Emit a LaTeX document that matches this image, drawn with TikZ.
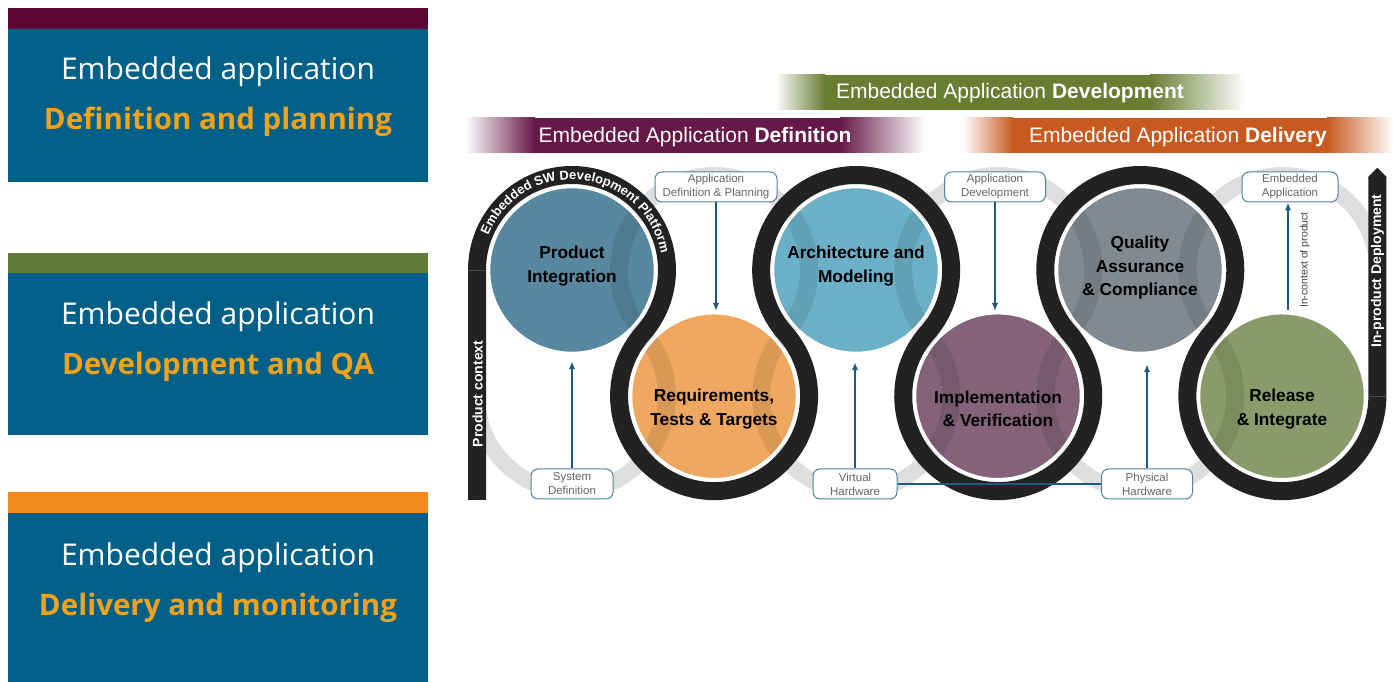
\documentclass[tikz,border=0pt]{standalone}
\usepackage{fontspec}
\setmainfont{Liberation Sans}
\newfontfamily\panelfont{Open Sans}
\usetikzlibrary{decorations.text,arrows.meta,calc}
\definecolor{panelblue}{RGB}{0,96,135}
\definecolor{barmaroon}{RGB}{94,7,53}
\definecolor{bargreen}{RGB}{98,122,55}
\definecolor{barorange}{RGB}{242,138,30}
\definecolor{panelorange}{RGB}{240,162,28}
\definecolor{defcol}{RGB}{102,24,70}
\definecolor{devcol}{RGB}{104,124,50}
\definecolor{delcol}{RGB}{200,90,32}
\definecolor{track}{RGB}{34,34,34}
\definecolor{gtrack}{RGB}{222,222,222}
\definecolor{cPI}{RGB}{88,135,160}
\definecolor{cReq}{RGB}{240,168,96}
\definecolor{cArch}{RGB}{108,176,200}
\definecolor{cImpl}{RGB}{131,98,122}
\definecolor{cQA}{RGB}{128,138,144}
\definecolor{cRel}{RGB}{138,154,104}
\definecolor{lblborder}{RGB}{80,130,160}
\definecolor{arrowblue}{RGB}{30,90,128}
\newcommand\platfont{\bfseries\fontsize{13}{13}\selectfont}
\def\graypath{(477,285.8) arc[start angle=180,end angle=401.6,radius=95]
  arc[start angle=221.6,end angle=-41.6,radius=95]
  arc[start angle=138.4,end angle=401.6,radius=95]
  arc[start angle=221.6,end angle=-41.6,radius=95]
  arc[start angle=138.4,end angle=401.6,radius=95]
  arc[start angle=221.6,end angle=0,radius=95]}
\begin{document}
\begin{tikzpicture}[x=1pt,y=1pt,
  ptext/.style={font=\panelfont\fontsize{30}{32}\selectfont, text=white, anchor=base},
  porange/.style={font=\panelfont\bfseries\fontsize{29.5}{32}\selectfont, text=panelorange, anchor=base},
  bantext/.style={font=\fontsize{21}{23}\selectfont, text=white, anchor=base},
  phase/.style={circle, minimum size=166pt, inner sep=0pt, draw=white, line width=2.5pt},
  ctext/.style={font=\bfseries\fontsize{17.3}{23.5}\selectfont, align=center, text=black},
  lbl/.style={draw=lblborder, fill=white, rounded corners=7pt, line width=1pt, align=center,
    font=\fontsize{11.5}{14}\selectfont, text=black!60, minimum height=30pt, inner sep=1.5pt},
  arr/.style={draw=arrowblue, line width=1.6pt, -{Latex[length=8pt,width=6.5pt]}},
  bartext/.style={font=\bfseries\fontsize{14}{14}\selectfont, text=white, rotate=90}
]
\useasboundingbox (0,0) rectangle (1393,682);
\fill[white] (0,0) rectangle (1393,682);
% ---------- left panels ----------
\fill[barmaroon] (8,674) rectangle (428,653);
\fill[panelblue] (8,653) rectangle (428,500);
\node[ptext] (p1a) at (218,602) {Embedded application};
\node[porange] (p1b) at (218,552) {Definition and planning};
\fill[bargreen] (8,429) rectangle (428,409);
\fill[panelblue] (8,409) rectangle (428,247);
\node[ptext] (p2a) at (218,357) {Embedded application};
\node[porange] (p2b) at (218,307) {Development and QA};
\fill[barorange] (8,190) rectangle (428,169);
\fill[panelblue] (8,169) rectangle (428,0);
\node[ptext] (p3a) at (218,116) {Embedded application};
\node[porange] (p3b) at (218,66) {Delivery and monitoring};
% ---------- banners ----------
\shade[left color=white, right color=devcol] (775,572) rectangle (825,607);
\fill[devcol] (824.5,572) rectangle (1150.5,607);
\shade[left color=devcol, right color=white] (1150,572) rectangle (1245,607);
\node[bantext] (bdev) at (1010,583) {Embedded Application \textbf{Development}};
\shade[left color=white, right color=defcol] (465,529) rectangle (535,564);
\fill[defcol] (534.5,529) rectangle (840.5,564);
\shade[left color=defcol, right color=white] (840,529) rectangle (925,564);
\node[bantext] (bdef) at (695,539.3) {Embedded Application \textbf{Definition}};
\shade[left color=white, right color=delcol] (963,529) rectangle (1013,564);
\fill[delcol] (1012.5,529) rectangle (1327.5,564);
\shade[left color=delcol, right color=white] (1327,529) rectangle (1393,564);
\node[bantext] (bdel) at (1178,539.3) {Embedded Application \textbf{Delivery}};
% ---------- gray track ----------
\draw[gtrack, line width=16pt] \graypath;
% ---------- phase circles ----------
\node[phase, fill=cPI]   (pi)   at (572,412) {};
\node[phase, fill=cReq]  (req)  at (714,285.8) {};
\node[phase, fill=cArch] (arch) at (856,412) {};
\node[phase, fill=cImpl] (impl) at (998,285.8) {};
\node[phase, fill=cQA]   (qa)   at (1140,412) {};
\node[phase, fill=cRel]  (rel)  at (1282,285.8) {};
\begin{scope}
  \clip (572,412) circle[radius=82] (714,285.8) circle[radius=82] (856,412) circle[radius=82]
        (998,285.8) circle[radius=82] (1140,412) circle[radius=82] (1282,285.8) circle[radius=82];
  \draw[black, opacity=0.09, line width=18pt] \graypath;
\end{scope}
% ---------- black track ----------
\draw[track, line width=18pt] (477,182) -- (477,412)
  arc[start angle=180,end angle=-41.6,radius=95]
  arc[start angle=138.4,end angle=401.6,radius=95]
  arc[start angle=221.6,end angle=-41.6,radius=95]
  arc[start angle=138.4,end angle=401.6,radius=95]
  arc[start angle=221.6,end angle=-41.6,radius=95]
  arc[start angle=138.4,end angle=360,radius=95]
  -- ++(0,218.4) coordinate (rtop);
\fill[track] ([xshift=-9pt,yshift=-1pt]rtop) -- ([xshift=-9pt,yshift=1pt]rtop) -- ([yshift=10pt]rtop)
  -- ([xshift=9pt,yshift=1pt]rtop) -- ([xshift=9pt,yshift=-1pt]rtop) -- cycle;
\draw[black!70, line width=0.6pt] (468,412) -- (486,412);
\draw[black!70, line width=0.6pt] (1368.4,285.8) -- (1386.4,285.8);
\node[bartext] (pctx) at (477.5,288) {Product context};
\node[bartext] (ipd) at (1377.4,411) {In-product Deployment};
\path[decorate, decoration={text along path, text={|\platfont|Embedded SW Development Platform},
  text color=white, text align=center}]
  (572,412) ++(161:90.5) arc[start angle=161,end angle=7,radius=90.5];
% ---------- circle texts ----------
\node[ctext] (piT)   at (572,416)   {Product\\Integration};
\node[ctext] (reqT)  at (714,273)   {Requirements,\\Tests \& Targets};
\node[ctext] (archT) at (856,416)   {Architecture and\\Modeling};
\node[ctext] (implT) at (998,273)   {Implementation\\\& Verification};
\node[ctext] (qaT)   at (1140,414)  {Quality\\Assurance\\\& Compliance};
\node[ctext] (relT)  at (1282,273)  {Release\\\& Integrate};
% ---------- labels ----------
\node[lbl, minimum width=82pt]  (sysdef) at (572,198)  {System\\Definition};
\node[lbl, minimum width=122pt] (appdef) at (716,495)  {Application\\Definition \& Planning};
\node[lbl, minimum width=84pt]  (virt)   at (855,198)  {Virtual\\Hardware};
\node[lbl, minimum width=101pt] (appdev) at (995,495)  {Application\\Development};
\node[lbl, minimum width=91pt]  (phys)   at (1147,198) {Physical\\Hardware};
\node[lbl, minimum width=96pt]  (embapp) at (1290,495) {Embedded\\Application};
% ---------- arrows ----------
\draw[arrowblue, line width=1.6pt] (virt.east) -- (phys.west);
\draw[arr] (sysdef.north) -- ($(sysdef.north |- pi.south)+(0,-7)$);
\draw[arr] (appdef.south) -- ($(appdef.south |- req.north)+(0,1)$);
\draw[arr] (virt.north) -- ($(virt.north |- arch.south)+(0,-8)$);
\draw[arr] (appdev.south) -- ($(appdev.south |- impl.north)+(0,1)$);
\draw[arr] (phys.north) -- ($(phys.north |- qa.south)+(0,-10)$);
\coordinate (relup) at (1288,372);
\draw[arr] (relup) -- (relup |- embapp.south);
\node[font=\fontsize{10.5}{11}\selectfont, text=black!75, rotate=90] (ictx) at (1305,422) {In-context of product};
\end{tikzpicture}
\end{document}
